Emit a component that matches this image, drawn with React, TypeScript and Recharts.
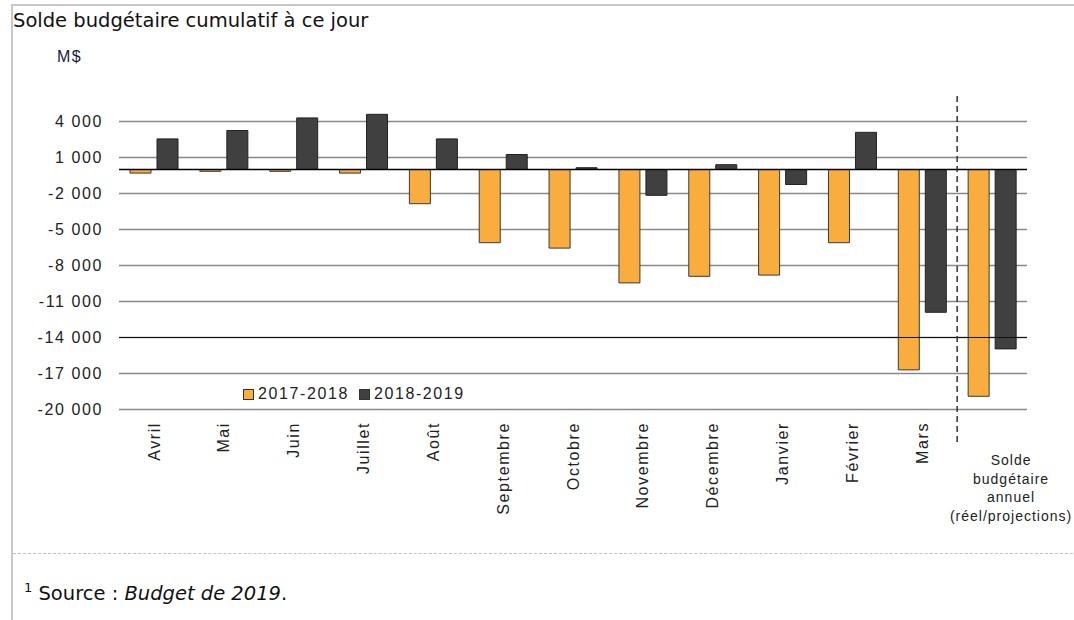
import React from 'react';
import { BarChart, Bar, XAxis, YAxis, CartesianGrid, ReferenceLine } from 'recharts';

const categories = [
  'Avril', 'Mai', 'Juin', 'Juillet', 'Août', 'Septembre', 'Octobre',
  'Novembre', 'Décembre', 'Janvier', 'Février', 'Mars', 'Solde budgétaire annuel (réel/projections)',
];
const annualLabelLines = ['Solde', 'budgétaire', 'annuel', '(réel/projections)'];
const series2017 = [-300, -150, -150, -300, -2850, -6100, -6550, -9450, -8900, -8800, -6100, -16700, -18900];
const series2018 = [2550, 3250, 4300, 4600, 2550, 1250, 150, -2150, 400, -1250, 3100, -11900, -14950];
const seriesNames = ['2017-2018', '2018-2019'];
const yTicks = [-20000, -17000, -14000, -11000, -8000, -5000, -2000, 1000, 4000];

const ORANGE = '#F9AD3F';
const DARK = '#404040';
const chartFont = '"Liberation Sans", Arial, sans-serif';
const pageFont = '"DejaVu Sans", Verdana, sans-serif';

const data = categories.map((name, i) => ({ name, a: series2017[i], b: series2018[i] }));

const fmt = (v: number) => {
  const s = Math.abs(v).toString().replace(/\B(?=(\d{3})+(?!\d))/g, ' ');
  return (v < 0 ? '-' : '') + s;
};

const XTick = (props: any) => {
  const { x, y, payload } = props;
  if (payload.value === categories[categories.length - 1]) {
    return (
      <text x={x + 19} y={y + 23} textAnchor="middle" fontSize={14} letterSpacing={1}
        fontFamily={chartFont} fill="#222">
        {annualLabelLines.map((l, i) => (
          <tspan key={i} x={x + 19} dy={i === 0 ? 0 : 18.5}>{l}</tspan>
        ))}
      </text>
    );
  }
  return (
    <text transform={`translate(${x},${y - 20}) rotate(-90)`} textAnchor="end" dy="0.35em"
      fontSize={16} letterSpacing={1.6} fontFamily={chartFont} fill="#222">
      {payload.value}
    </text>
  );
};

const LegendBox = () => (
  <div style={{ position: 'absolute', left: 243, top: 385, display: 'flex', alignItems: 'center', fontFamily: chartFont, fontSize: 16, letterSpacing: 1.6, color: '#222' }}>
    {[ORANGE, DARK].map((c, i) => (
      <span key={i} style={{ display: 'flex', alignItems: 'center', marginRight: 10 }}>
        <span style={{ width: 9, height: 9, background: c, border: '1px solid #333', marginRight: 4 }} />
        {seriesNames[i]}
      </span>
    ))}
  </div>
);

export default function App() {
  return (
    <div style={{ position: 'absolute', left: 0, top: 0, width: 1074, height: 620, background: '#fff', overflow: 'hidden' }}>
      <div style={{ position: 'absolute', left: 11, top: 4, width: 1100, height: 700, borderLeft: '2px solid #c8c8c8', borderTop: '2px solid #c8c8c8' }} />
      <div style={{ position: 'absolute', left: 13, top: 9, fontFamily: pageFont, fontSize: 19.5, color: '#111' }}>
        Solde budgétaire cumulatif à ce jour
      </div>
      <div style={{ position: 'absolute', left: 57, top: 48, fontFamily: chartFont, fontSize: 16, letterSpacing: 1.5, color: '#1a1a40' }}>
        M$
      </div>
      <BarChart width={1074} height={620} data={data} margin={{ top: 92, right: 47, bottom: 0, left: 0 }}
        barSize={21} barGap={6} style={{ position: 'absolute', left: 0, top: 0 }}>
        <CartesianGrid horizontal vertical={false} horizontalValues={yTicks} stroke="#888" strokeWidth={1.5} />
        <YAxis type="number" domain={[-22710, 6460]} ticks={yTicks} width={119} tickFormatter={fmt}
          axisLine={false} tickLine={false} tickSize={0} tickMargin={16} interval={0}
          tick={{ fill: '#222', fontSize: 16, fontFamily: chartFont, letterSpacing: 1.6 } as any} />
        <XAxis dataKey="name" height={178} axisLine={false} tickLine={false} tickSize={0} tickMargin={0}
          interval={0} tick={<XTick />} />
        <ReferenceLine y={0} stroke="#000" strokeWidth={1.5} />
        <ReferenceLine y={-14000} stroke="#111" strokeWidth={1} />
        <ReferenceLine x="Mars" position="end" stroke="#333" strokeWidth={1.5} strokeDasharray="6 4" />
        <Bar dataKey="a" name={seriesNames[0]} fill={ORANGE} stroke="#3a3a3a" strokeWidth={1} isAnimationActive={false} />
        <Bar dataKey="b" name={seriesNames[1]} fill={DARK} stroke="#222" strokeWidth={1} isAnimationActive={false} />
      </BarChart>
      <LegendBox />
      <div style={{ position: 'absolute', left: 13, top: 553, width: 1070, borderTop: '1.5px dashed #c0c0c0' }} />
      <div style={{ position: 'absolute', left: 24, top: 580, fontFamily: pageFont, fontSize: 19.5, color: '#111' }}>
        <sup style={{ fontSize: 13 }}>1</sup> Source : <i>Budget de 2019</i>.
      </div>
    </div>
  );
}
